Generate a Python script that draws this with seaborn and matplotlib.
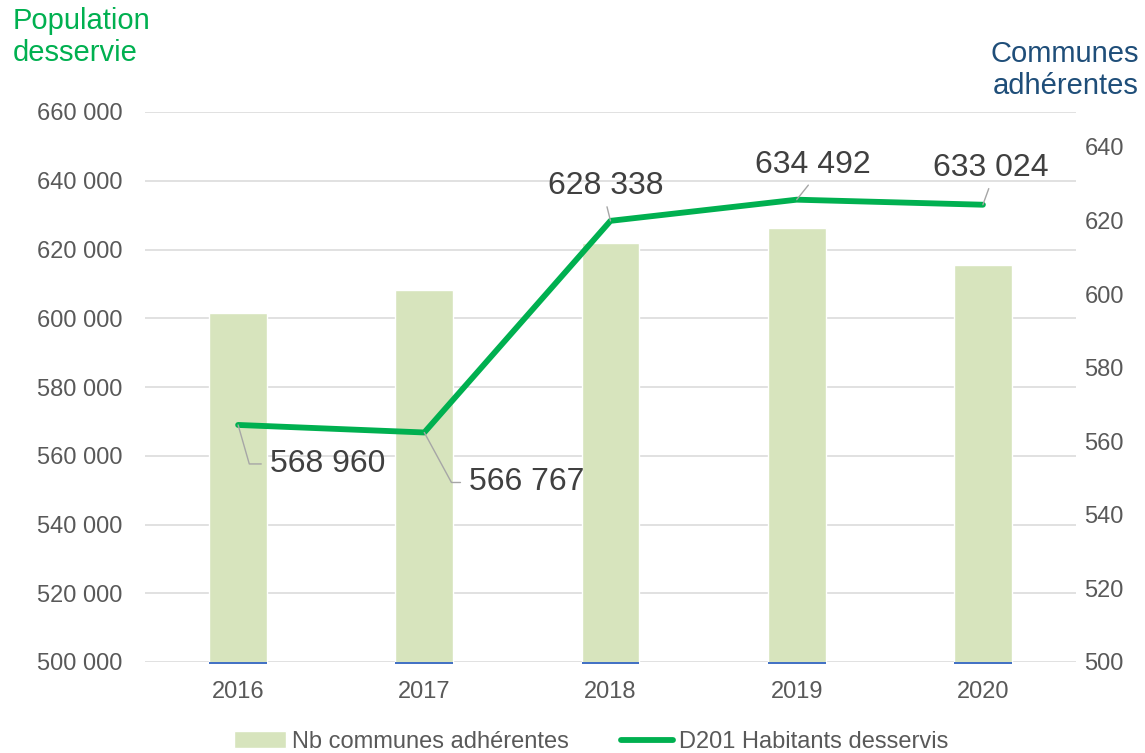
import numpy as np
import matplotlib
matplotlib.use("Agg")
import matplotlib.pyplot as plt
import seaborn as sns
from matplotlib.ticker import FuncFormatter

# ---- data ----
years = ["2016", "2017", "2018", "2019", "2020"]
communes = [595, 601, 614, 618, 608]
population = [568960, 566767, 628338, 634492, 633024]
pop_labels = ["568 960", "566 767", "628 338", "634 492", "633 024"]
base_series = [0.7, 0.7, 0.7, 0.7, 0.7]
left_ticks = list(range(500000, 660001, 20000))
right_ticks = list(range(500, 641, 20))

sns.set_theme(style="white")
plt.rcParams['font.family'] = ['Liberation Sans', 'DejaVu Sans']

W, H = 1145, 753
fig = plt.figure(figsize=(W / 100, H / 100), dpi=100)
ax = fig.add_axes([145 / W, 1 - 662 / H, (1076 - 145) / W, (662 - 112) / H])
ax2 = ax.twinx()
ax3 = ax.twinx()

# left axis (gridlines)
ax.set_ylim(500000, 660000)
ax.set_yticks(left_ticks)
ax.yaxis.set_major_formatter(FuncFormatter(lambda v, p: f"{int(v):,}".replace(",", " ")))
ax.grid(axis='y', color='#D9D9D9', lw=1.1)
ax.grid(axis='x', visible=False)

# bars on right axis
sns.barplot(x=years, y=communes, ax=ax2, color='#D7E4BD', width=0.31, saturation=1)
ax2.bar(np.arange(len(years)), base_series, bottom=499.35, width=0.31,
        color='#4472C4', edgecolor='none', linewidth=0, clip_on=False, zorder=3)
ax2.set_ylim(500, 649.5)
ax2.set_yticks(right_ticks)

# line on third axis (left scale)
sns.lineplot(x=np.arange(len(years)), y=population, ax=ax3, color='#00B050',
             lw=4.2, solid_capstyle='round', solid_joinstyle='round')
ax3.set_ylim(500000, 660000)
ax3.set_yticks([])

for a in (ax, ax2, ax3):
    a.set_xlabel('')
    a.set_ylabel('')
    for s in a.spines.values():
        s.set_visible(False)

ax.set_xlim(-0.5, len(years) - 0.5)
ax.set_xticks(np.arange(len(years)))
ax.set_xticklabels(years)
ax.tick_params(axis='x', length=0, pad=14, labelsize=17, colors='#595959')
ax.tick_params(axis='y', length=0, pad=16, labelsize=17, colors='#595959')
ax2.tick_params(axis='y', length=0, pad=6, labelsize=17, colors='#595959')

# data labels with leader lines
lead = dict(arrowstyle='-', color='#A6A6A6', lw=1.0, shrinkB=0)
label_cfg = [
    dict(off=(32, -47), ha='left', relpos=(0, 0.5), cs="angle,angleA=0,angleB=-74,rad=0", sA=4),
    dict(off=(45, -58), ha='left', relpos=(0, 0.5), cs="angle,angleA=0,angleB=-61.5,rad=0", sA=4),
    dict(off=(-5, 27), ha='center', relpos=(0.5, 0), cs="arc3", sA=2),
    dict(off=(16, 27), ha='center', relpos=(0.5, 0), cs="arc3", sA=2),
    dict(off=(8, 29), ha='center', relpos=(0.5, 0), cs="arc3", sA=2),
]
for i, (v, lab) in enumerate(zip(population, pop_labels)):
    c = label_cfg[i]
    ax3.annotate(lab, xy=(i, v), xytext=c['off'], textcoords='offset pixels',
                 ha=c['ha'], va='baseline', fontsize=23, color='#404040',
                 annotation_clip=False,
                 arrowprops=dict(lead, relpos=c['relpos'], connectionstyle=c['cs'],
                                 shrinkA=c['sA']))

# axis titles
fig.text(13 / W, 1 - 7 / H, "Population\ndesservie", ha='left', va='top',
         fontsize=21, color='#00B050', linespacing=1.2)
fig.text(1139 / W, 1 - 40 / H, "Communes\nadhérentes", ha='right', va='top',
         fontsize=21, color='#1F4E79', linespacing=1.2, multialignment='right')

# legend
handles = [ax2.patches[0], ax3.lines[0]]
labels = ["Nb communes adhérentes", "D201 Habitants desservis"]
fig.legend(handles, labels, loc='center', bbox_to_anchor=(591 / W, 1 - 742 / H),
           ncol=2, frameon=False, fontsize=17, handlelength=2.2, handletextpad=0.25,
           columnspacing=2.2, labelcolor='#595959')

fig.savefig("out.png", dpi=100)
